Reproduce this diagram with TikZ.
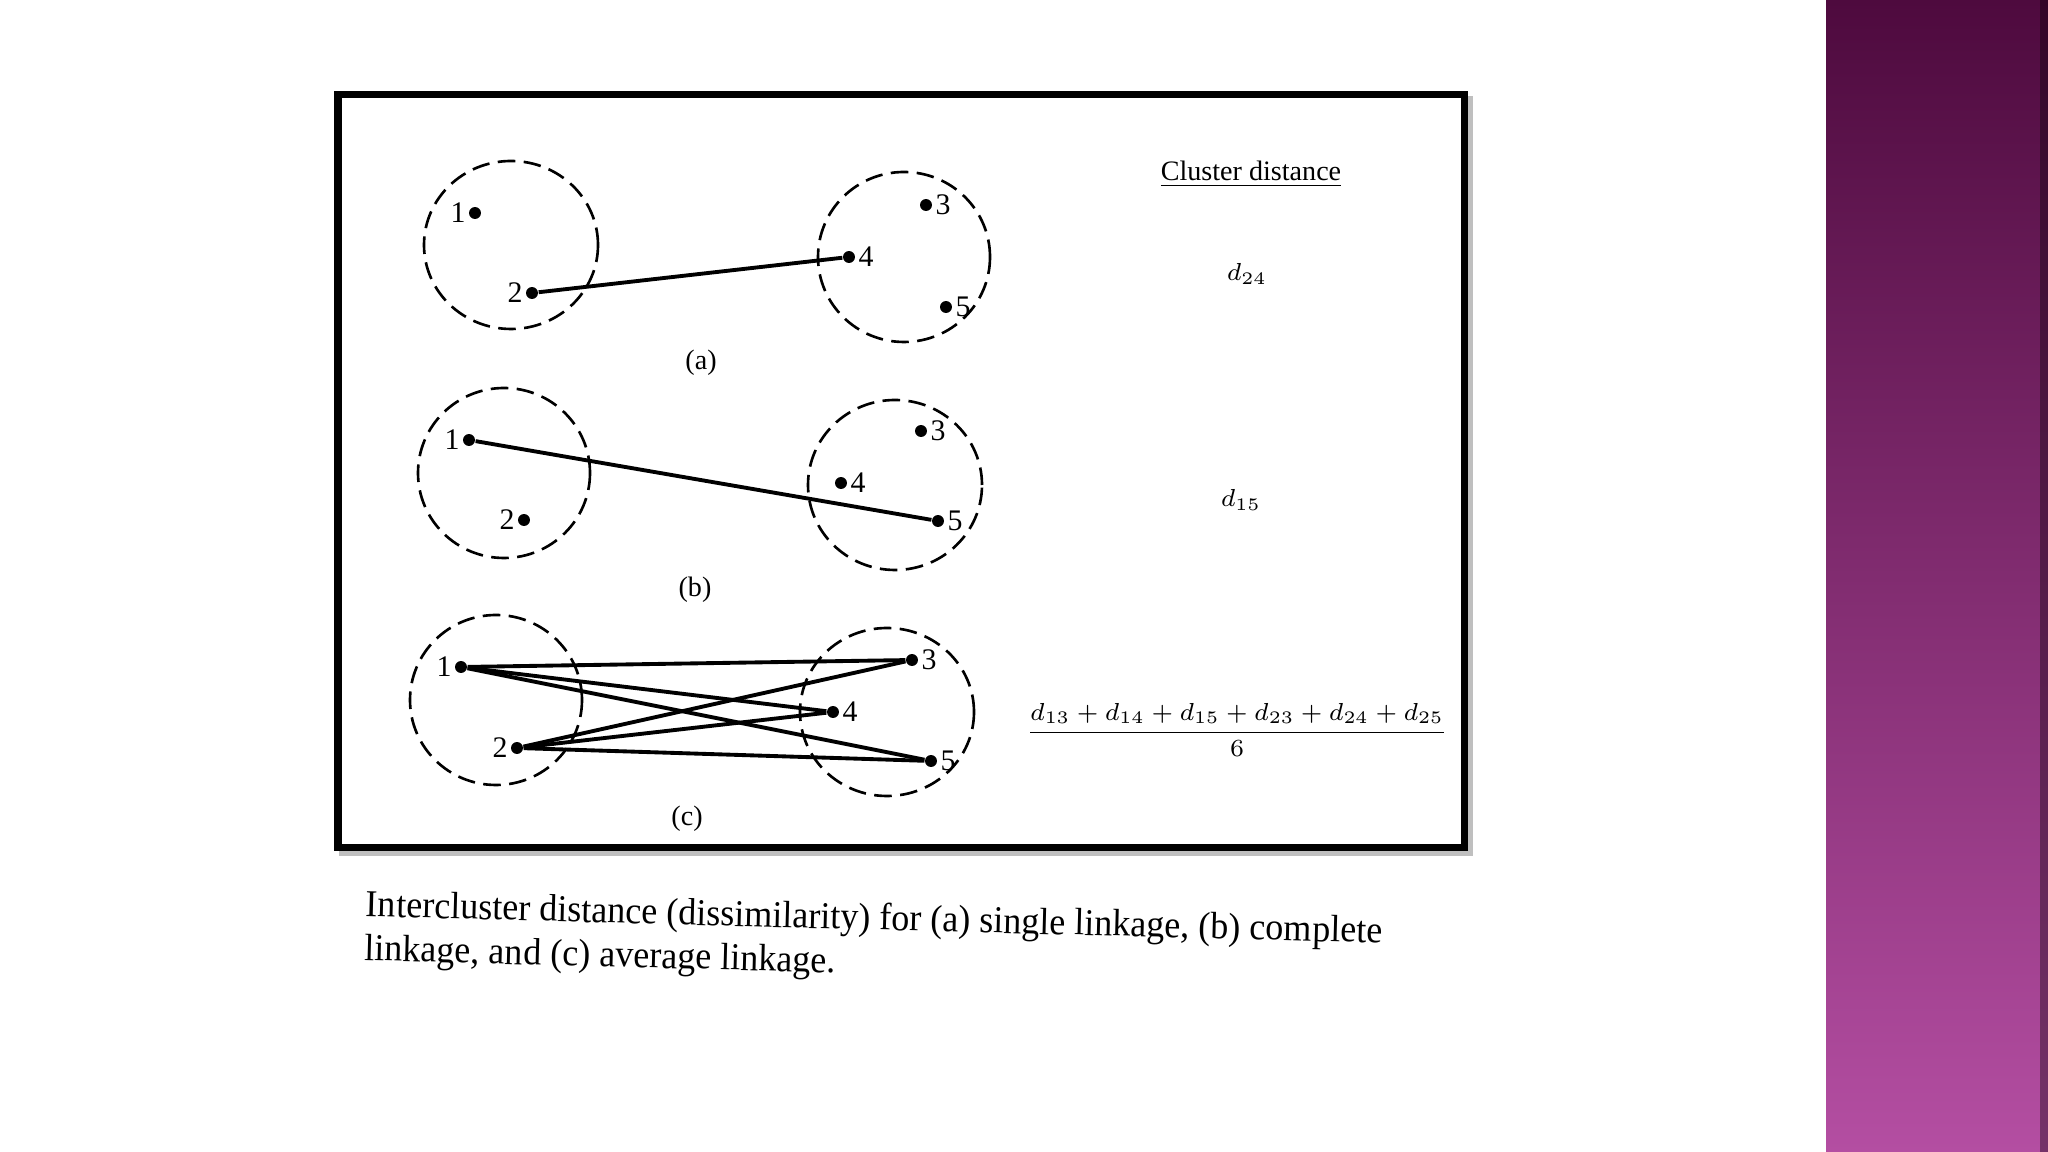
\documentclass[tikz,border=0pt]{standalone}
\usepackage{amsmath}
\usepackage{fontspec}
\setmainfont{Liberation Serif}
\newfontfamily\capfont{Liberation Serif}[FakeStretch=0.95]
\definecolor{plumtop}{RGB}{78,10,62}
\definecolor{plumbot}{RGB}{180,78,162}

\begin{document}
\begin{tikzpicture}[x=0.1mm, y=-0.1mm, every node/.style={font=\fontsize{8}{9}\selectfont},
	datapt/.style={circle, fill=black, inner sep=0pt, minimum size=3.4pt},
	lbl/.style={inner sep=0.6pt, font=\fontsize{8.5}{9}\selectfont},
	link/.style={line width=1.1pt},
	cluster/.style={dash pattern=on 5pt off 2.4pt, line width=0.75pt},
	dist/.style={font=\fontsize{7.4}{9}\selectfont}]
	\useasboundingbox (0,0) rectangle (2048,1152);
	\fill[white] (0,0) rectangle (2048,1152);
	\shade[top color=plumtop, bottom color=plumbot] (1826,0) rectangle (2048,1152);
	\fill[black, opacity=0.35] (2040,0) rectangle (2048,1152);
	\draw[black!25, line width=2pt] (343,100) rectangle (1469,852);
	\draw[fill=white, line width=2pt] (338,94.5) rectangle (1464.5,847.5);
	% (a) single linkage
	\draw[cluster] (511,245) ellipse [x radius=8.7mm, y radius=8.4mm];
	\draw[cluster] (904,257) ellipse [x radius=8.6mm, y radius=8.5mm];
	\node[datapt, label={[lbl]left:1}] (a1) at (475,213) {};
	\node[datapt, label={[lbl]left:2}] (a2) at (532,293) {};
	\node[datapt, label={[lbl]right:3}] (a3) at (926,205) {};
	\node[datapt, label={[lbl]right:4}] (a4) at (849,257) {};
	\node[datapt, label={[lbl]right:5}] (a5) at (946,307) {};
	\draw[link] (a2) -- (a4);
	\node (capa) at (701,363) {(a)};
	% (b) complete linkage
	\draw[cluster] (504,473) ellipse [x radius=8.6mm, y radius=8.5mm];
	\draw[cluster] (895,485) ellipse [x radius=8.7mm, y radius=8.5mm];
	\node[datapt, label={[lbl]left:1}] (b1) at (469,440) {};
	\node[datapt, label={[lbl]left:2}] (b2) at (524,520) {};
	\node[datapt, label={[lbl]right:3}] (b3) at (921,431) {};
	\node[datapt, label={[lbl]right:4}] (b4) at (841,483) {};
	\node[datapt, label={[lbl]right:5}] (b5) at (938,521) {};
	\draw[link] (b1) -- (b5);
	\node (capb) at (695,590) {(b)};
	% (c) average linkage
	\draw[cluster] (496,700) ellipse [x radius=8.6mm, y radius=8.5mm];
	\draw[cluster] (887,712) ellipse [x radius=8.7mm, y radius=8.4mm];
	\node[datapt, label={[lbl]left:1}] (c1) at (461,667) {};
	\node[datapt, label={[lbl]left:2}] (c2) at (517,748) {};
	\node[datapt, label={[lbl]right:3}] (c3) at (912,660) {};
	\node[datapt, label={[lbl]right:4}] (c4) at (833,712) {};
	\node[datapt, label={[lbl]right:5}] (c5) at (931,761) {};
	\draw[link] (c1) -- (c3);
	\draw[link] (c1) -- (c4);
	\draw[link] (c1) -- (c5);
	\draw[link] (c2) -- (c3);
	\draw[link] (c2) -- (c4);
	\draw[link] (c2) -- (c5);
	\node (capc) at (687,819) {(c)};
	% distances
	\node (head) at (1251,174) {\underline{Cluster distance}};
	\node[dist] (da) at (1247,274) {$d_{24}$};
	\node[dist] (db) at (1241,500) {$d_{15}$};
	\node[dist] (dc) at (1237,730) {$\dfrac{d_{13}+d_{14}+d_{15}+d_{23}+d_{24}+d_{25}}{6}$};
	\node[anchor=north west, rotate=-1.5, align=left, inner sep=0pt, font=\capfont\fontsize{10.8}{12.5}\selectfont] (caption) at (366,889) {Intercluster distance (dissimilarity) for (a) single linkage, (b) complete\\linkage, and (c) average linkage.};
\end{tikzpicture}
\end{document}
